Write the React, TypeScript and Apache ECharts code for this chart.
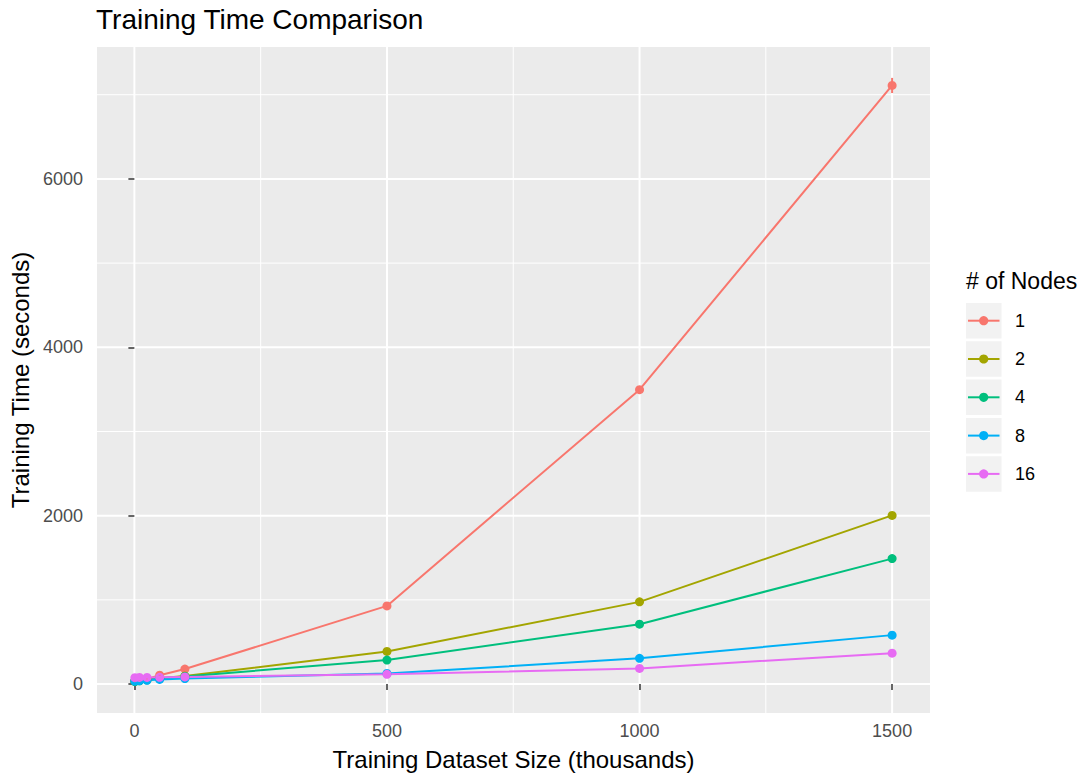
import React, { useEffect, useRef } from "react";
import * as echarts from "echarts";

const xValues = [1, 10, 25, 50, 100, 500, 1000, 1500];
const nodeLabels = ["1", "2", "4", "8", "16"];
const node1 = [35, 45, 60, 105, 178, 928, 3497, 7110];
const node2 = [35, 42, 52, 70, 95, 387, 976, 2003];
const node4 = [30, 38, 50, 68, 90, 285, 711, 1490];
const node8 = [35, 40, 45, 55, 65, 125, 305, 581];
const node16 = [75, 78, 78, 80, 85, 115, 186, 367];
const node1Error = [2, 2, 3, 4, 6, 12, 30, 90];
const seriesValues = [node1, node2, node4, node8, node16];
const seriesColors = ["#F8766D", "#A3A500", "#00BF7D", "#00B0F6", "#E76BF3"];
const xTicks = [0, 500, 1000, 1500];
const xMinor = [250, 750, 1250];
const yTicks = [0, 2000, 4000, 6000];
const yMinor = [1000, 3000, 5000, 7000];

const FONT = "'Liberation Sans', Arial, Helvetica, sans-serif";

export default function App() {
  const ref = useRef<HTMLDivElement>(null);
  useEffect(() => {
    if (!ref.current) return;
    const chart = echarts.init(ref.current, null, { renderer: "svg" });

    const gridData: number[][] = [];
    xMinor.forEach((v) => gridData.push([0, v, 0]));
    yMinor.forEach((v) => gridData.push([1, v, 0]));
    xTicks.forEach((v) => gridData.push([0, v, 1]));
    yTicks.forEach((v) => gridData.push([1, v, 1]));

    const legendTop = 303;
    const legendStep = 38.3;
    const legendGraphics: any[] = [
      {
        type: "text",
        x: 966,
        y: 281,
        style: {
          text: "# of Nodes",
          fontSize: 23,
          fill: "#000",
          fontFamily: FONT,
          verticalAlign: "middle",
          align: "left",
        },
      },
    ];
    nodeLabels.forEach((lab, i) => {
      const y0 = legendTop + i * legendStep;
      const cy = y0 + 17.7;
      legendGraphics.push({
        type: "rect",
        shape: { x: 966, y: y0, width: 35.5, height: 35.5 },
        style: { fill: "#F2F2F2" },
      });
      legendGraphics.push({
        type: "line",
        shape: { x1: 968, y1: cy, x2: 999.5, y2: cy },
        style: { stroke: seriesColors[i], lineWidth: 2 },
      });
      legendGraphics.push({
        type: "circle",
        shape: { cx: 983.7, cy, r: 4.6 },
        style: { fill: seriesColors[i] },
      });
      legendGraphics.push({
        type: "text",
        x: 1015,
        y: cy,
        style: {
          text: lab,
          fontSize: 18,
          fill: "#000",
          fontFamily: FONT,
          verticalAlign: "middle",
          align: "left",
        },
      });
    });

    const option: any = {
      animation: false,
      backgroundColor: "#FFFFFF",
      textStyle: { fontFamily: FONT },
      title: {
        text: "Training Time Comparison",
        left: 96,
        top: 5,
        padding: 0,
        textStyle: { fontSize: 28, fontWeight: "normal", color: "#000", fontFamily: FONT },
      },
      grid: {
        left: 97,
        right: 157,
        top: 47,
        bottom: 62,
        show: true,
        backgroundColor: "#EBEBEB",
        borderWidth: 0,
      },
      xAxis: {
        type: "value",
        min: -74,
        max: 1575,
        name: "Training Dataset Size (thousands)",
        nameLocation: "middle",
        nameGap: 34,
        nameTextStyle: { fontSize: 24, color: "#000", fontFamily: FONT },
        axisLine: { show: false },
        axisTick: {
          show: true,
          length: 6,
          customValues: xTicks,
          lineStyle: { color: "#333333", width: 1.5 },
        },
        axisLabel: {
          customValues: xTicks,
          formatter: (v: number) => String(v),
          color: "#4D4D4D",
          fontSize: 18,
          margin: 9,
          fontFamily: FONT,
        },
        splitLine: { show: false },
      },
      yAxis: {
        type: "value",
        min: -344,
        max: 7567,
        name: "Training Time (seconds)",
        nameLocation: "middle",
        nameGap: 63,
        nameTextStyle: { fontSize: 24, color: "#000", fontFamily: FONT },
        axisLine: { show: false },
        axisTick: {
          show: true,
          length: 6,
          customValues: yTicks,
          lineStyle: { color: "#333333", width: 1.5 },
        },
        axisLabel: {
          customValues: yTicks,
          formatter: (v: number) => String(v),
          color: "#4D4D4D",
          fontSize: 18,
          margin: 14,
          fontFamily: FONT,
        },
        splitLine: { show: false },
      },
      graphic: legendGraphics,
      series: [
        {
          type: "custom",
          silent: true,
          z: 0,
          data: gridData,
          renderItem: (params: any, api: any) => {
            const cs = params.coordSys;
            const orient = api.value(0);
            const v = api.value(1);
            const major = api.value(2);
            const lw = major ? 2 : 1;
            if (orient === 0) {
              const px = api.coord([v, 0])[0];
              return {
                type: "line",
                shape: { x1: px, y1: cs.y, x2: px, y2: cs.y + cs.height },
                style: { stroke: "#FFFFFF", lineWidth: lw },
              };
            }
            const py = api.coord([0, v])[1];
            return {
              type: "line",
              shape: { x1: cs.x, y1: py, x2: cs.x + cs.width, y2: py },
              style: { stroke: "#FFFFFF", lineWidth: lw },
            };
          },
        },
        ...seriesValues.map((vals, i) => ({
          type: "line",
          name: nodeLabels[i],
          data: xValues.map((x, j) => [x, vals[j]]),
          symbol: "circle",
          symbolSize: 9,
          showSymbol: true,
          z: 3,
          lineStyle: { color: seriesColors[i], width: 2 },
          itemStyle: { color: seriesColors[i] },
          emphasis: { disabled: true },
        })),
        {
          type: "custom",
          silent: true,
          z: 4,
          data: xValues.map((x, j) => [x, node1[j] - node1Error[j], node1[j] + node1Error[j]]),
          renderItem: (params: any, api: any) => {
            const p1 = api.coord([api.value(0), api.value(1)]);
            const p2 = api.coord([api.value(0), api.value(2)]);
            return {
              type: "line",
              shape: { x1: p1[0], y1: p1[1], x2: p2[0], y2: p2[1] },
              style: { stroke: seriesColors[0], lineWidth: 2 },
            };
          },
        },
      ],
    };
    chart.setOption(option);
    return () => chart.dispose();
  }, []);
  return (
    <div
      ref={ref}
      style={{ position: "fixed", left: 0, top: 0, width: 1087, height: 776 }}
    />
  );
}
